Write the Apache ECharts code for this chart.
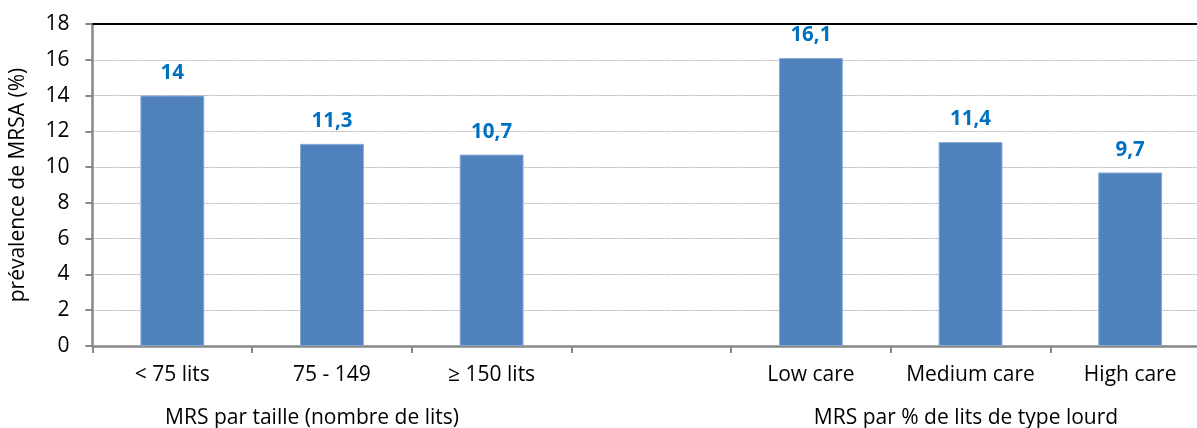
<!DOCTYPE html>
<html>
<head>
<meta charset="utf-8">
<script src="https://cdn.jsdelivr.net/npm/echarts@6/dist/echarts.min.js"></script>
<style>
  html, body { margin: 0; padding: 0; background: #fff; }
  #chart { width: 1197px; height: 428px; }
</style>
</head>
<body>
<div id="chart"></div>
<script>
// Catégories de MRS (une case vide sépare les deux regroupements)
const categories = ['< 75 lits', '75 - 149', '\u2265 150 lits', '', 'Low care', 'Medium care', 'High care'];
// Prévalence de MRSA (%) par catégorie
const prevalence = [14, 11.3, 10.7, null, 16.1, 11.4, 9.7];
// Titres des deux regroupements
const groupTitles = ['MRS par taille (nombre de lits)', 'MRS par % de lits de type lourd'];
const yTitle = 'prévalence de MRSA (%)';

const FONT = '"Open Sans", "Noto Sans", sans-serif';
const FS = 21;
const chart = echarts.init(document.getElementById('chart'));

chart.setOption({
  animation: false,
  backgroundColor: '#ffffff',
  grid: {
    left: 92.5, top: 24, width: 1117.5, bottom: 82,
    containLabel: false,
    outerBoundsMode: 'none'
  },
  xAxis: [
    {
      type: 'category',
      data: categories,
      boundaryGap: true,
      axisLine: { lineStyle: { color: '#878787', width: 2.5 } },
      axisTick: { show: true, interval: 0, length: 7, lineStyle: { color: '#878787', width: 2 } },
      axisLabel: { interval: 0, hideOverlap: false, color: '#000', fontFamily: FONT, fontSize: FS, margin: 19 }
    },
    {
      type: 'category',
      data: categories,
      position: 'top',
      axisLine: { lineStyle: { color: '#000', width: 2 } },
      axisTick: { show: false },
      axisLabel: { show: false }
    }
  ],
  yAxis: {
    type: 'value',
    min: 0,
    max: 18,
    interval: 2,
    name: yTitle,
    nameLocation: 'middle',
    nameGap: 64,
    nameRotate: 90,
    nameTextStyle: { color: '#000', fontFamily: FONT, fontSize: FS },
    axisLine: { show: true, lineStyle: { color: '#878787', width: 2.5 } },
    axisTick: { show: true, length: 7, lineStyle: { color: '#878787', width: 2 } },
    axisLabel: { color: '#000', fontFamily: FONT, fontSize: FS, margin: 23 },
    splitLine: { show: true, lineStyle: { color: '#b0b0b0', type: [2, 1], width: 1 } }
  },
  series: [{
    type: 'bar',
    data: prevalence,
    barWidth: '40%',
    itemStyle: { color: '#4f81bd', borderColor: '#8aaad6', borderWidth: 1 },
    label: {
      show: true,
      position: 'top',
      distance: 12,
      color: '#0070c0',
      fontFamily: FONT,
      fontWeight: 'bold',
      fontSize: 20.5,
      formatter: p => String(p.value).replace('.', ',')
    }
  }],
  graphic: [
    {
      type: 'text', x: 312, y: 418,
      style: { text: groupTitles[0], fill: '#000', font: FS + 'px ' + FONT, align: 'center', verticalAlign: 'middle' }
    },
    {
      type: 'text', x: 966, y: 418,
      style: { text: groupTitles[1], fill: '#000', font: FS + 'px ' + FONT, align: 'center', verticalAlign: 'middle' }
    }
  ]
});
</script>
</body>
</html>
